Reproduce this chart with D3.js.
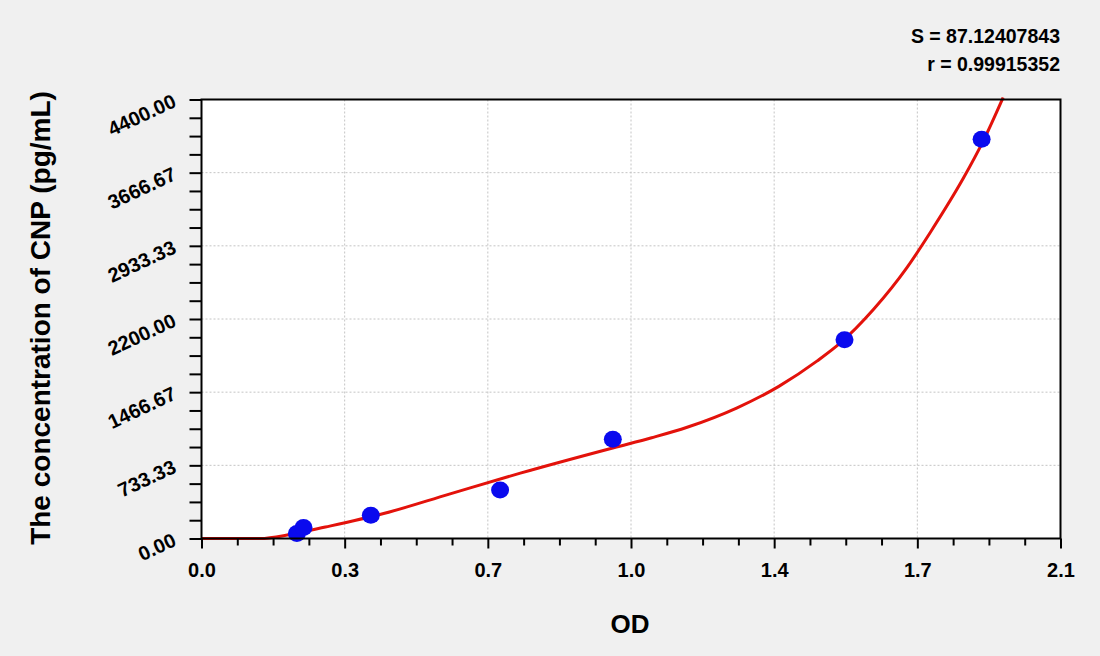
<!DOCTYPE html>
<html>
<head>
<meta charset="utf-8">
<script src="https://cdn.jsdelivr.net/npm/d3@7"></script>
<style>
	body { margin: 0; background: #f0f0f0; }
	svg { display: block; }
	.tick text { font-family: "Liberation Sans", Arial, sans-serif; font-weight: bold; fill: #000; }
</style>
</head>
<body>
<svg id="chart" width="1100" height="656"></svg>
<script>
'use strict'
// measured standard points (OD, concentration)
var pointOD = [0.231, 0.247, 0.410, 0.723, 0.996, 1.557, 1.889];
var pointConc = [50, 110, 234, 486, 994, 1993, 4001];

// fitted curve
var curveOD = [0, 0.142, 0.214, 0.30, 0.441, 0.60, 0.772, 0.998, 1.09, 1.176, 1.297, 1.398, 1.491, 1.547, 1.628, 1.709, 1.765, 1.846, 1.89, 1.941];
var curveConc = [0, 0, 40, 115, 250, 445, 655, 910, 1010, 1115, 1310, 1525, 1780, 1960, 2300, 2720, 3070, 3620, 3960, 4420];

var xMax = 2.08, yMax = 4400;
var xTickLabels = ["0.0", "0.3", "0.7", "1.0", "1.4", "1.7", "2.1"];
var yTickLabels = ["0.00", "733.33", "1466.67", "2200.00", "2933.33", "3666.67", "4400.00"];
var statLines = ["S = 87.12407843", "r = 0.99915352"];

var svg = d3.select("#chart");
var margin = {top: 99.5, right: 39.5, bottom: 117.5, left: 201.5};
var width = 1100 - margin.left - margin.right,
	height = 656 - margin.top - margin.bottom;

var x = d3.scaleLinear().domain([0, xMax]).range([0, width]),
	y = d3.scaleLinear().domain([0, yMax]).range([height, 0]);

var xMajor = d3.range(7).map(function(i){ return i * xMax / 6; }),
	yMajor = d3.range(7).map(function(i){ return i * yMax / 6; });
var xMinor = d3.range(25).filter(function(i){ return i % 4 !== 0; }).map(function(i){ return i * xMax / 24; }),
	yMinor = d3.range(25).filter(function(i){ return i % 4 !== 0; }).map(function(i){ return i * yMax / 24; });

var g = svg.append("g").attr("transform", "translate(" + margin.left + "," + margin.top + ")");

g.append("rect")
	.attr("width", width)
	.attr("height", height)
	.attr("fill", "#ffffff");

// dotted grid
g.selectAll(".vgrid")
	.data(xMajor.slice(1, 6))
	.enter().append("line")
	.attr("class", "vgrid")
	.attr("x1", function(d){ return x(d); })
	.attr("x2", function(d){ return x(d); })
	.attr("y1", 0).attr("y2", height)
	.attr("stroke", "#c4c4c4").attr("stroke-width", 1).attr("stroke-dasharray", "2,2");
g.selectAll(".hgrid")
	.data(yMajor.slice(1, 6))
	.enter().append("line")
	.attr("class", "hgrid")
	.attr("y1", function(d){ return y(d); })
	.attr("y2", function(d){ return y(d); })
	.attr("x1", 0).attr("x2", width)
	.attr("stroke", "#c4c4c4").attr("stroke-width", 1).attr("stroke-dasharray", "2,2");

// curve and points
var line = d3.line()
	.x(function(d){ return x(d[0]); })
	.y(function(d){ return y(d[1]); })
	.curve(d3.curveMonotoneX);
g.append("path")
	.datum(curveOD.map(function(v, i){ return [v, curveConc[i]]; }))
	.attr("d", line)
	.attr("fill", "none")
	.attr("stroke", "#e3120b")
	.attr("stroke-width", 3);

g.selectAll(".pt")
	.data(pointOD.map(function(v, i){ return [v, pointConc[i]]; }))
	.enter().append("ellipse")
	.attr("class", "pt")
	.attr("cx", function(d){ return x(d[0]); })
	.attr("cy", function(d){ return y(d[1]); })
	.attr("rx", 9).attr("ry", 8.5)
	.attr("fill", "#0a0aee");

// frame
g.append("rect")
	.attr("width", width)
	.attr("height", height)
	.attr("fill", "none")
	.attr("stroke", "#000")
	.attr("stroke-width", 2);

// x axis
var xAxis = g.append("g").attr("transform", "translate(0," + height + ")");
xAxis.call(d3.axisBottom(x).tickValues(xMajor).tickSize(10).tickPadding(14)
		.tickFormat(function(d, i){ return xTickLabels[i]; }));
xAxis.append("g").call(d3.axisBottom(x).tickValues(xMinor).tickSize(7).tickFormat(""));
xAxis.selectAll(".domain").remove();
xAxis.selectAll("line").attr("stroke", "#000").attr("stroke-width", 2);
xAxis.selectAll("text").style("font-size", "20px");

// y axis
var yAxis = g.append("g");
yAxis.call(d3.axisLeft(y).tickValues(yMajor).tickSize(12).tickFormat(function(d, i){ return yTickLabels[i]; }));
yAxis.append("g").call(d3.axisLeft(y).tickValues(yMinor).tickSize(12).tickFormat(""));
yAxis.selectAll(".domain").remove();
yAxis.selectAll("line").attr("stroke", "#000").attr("stroke-width", 2);
yAxis.selectAll("text")
	.style("font-size", "20px")
	.attr("x", null).attr("dy", null)
	.attr("text-anchor", "end")
	.attr("transform", "translate(-24,6) rotate(-25)");

// titles
svg.append("text")
	.attr("x", margin.left + width / 2 - 1)
	.attr("y", 633)
	.attr("text-anchor", "middle")
	.style("font-family", "'Liberation Sans', Arial, sans-serif")
	.style("font-weight", "bold")
	.style("font-size", "26px")
	.text("OD");

svg.append("text")
	.attr("transform", "translate(50,318) rotate(-90)")
	.attr("text-anchor", "middle")
	.style("font-family", "'Liberation Sans', Arial, sans-serif")
	.style("font-weight", "bold")
	.style("font-size", "28px")
	.text("The concentration of CNP (pg/mL)");

svg.selectAll(".stat")
	.data(statLines)
	.enter().append("text")
	.attr("class", "stat")
	.attr("x", 1060)
	.attr("y", function(d, i){ return 43 + i * 28; })
	.attr("text-anchor", "end")
	.style("font-family", "'Liberation Sans', Arial, sans-serif")
	.style("font-weight", "bold")
	.style("font-size", "19.5px")
	.text(function(d){ return d; });
</script>
</body>
</html>
